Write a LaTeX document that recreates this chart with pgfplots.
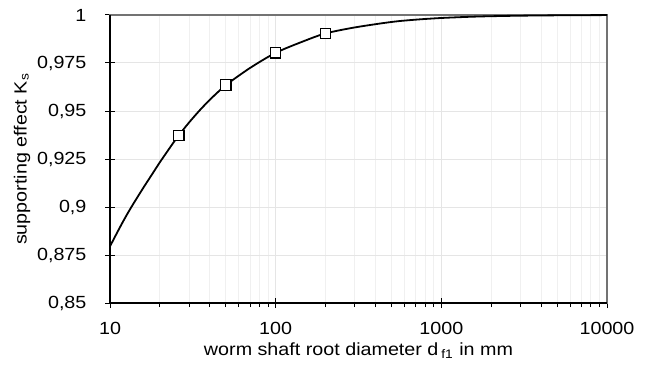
\documentclass[border=0pt]{standalone}
\usepackage{pgfplots}
\pgfplotsset{compat=1.18}
\usepackage{fontspec}
\setmainfont{Liberation Sans}[FakeStretch=1.12]
\begin{document}
\fontsize{8.8}{10.5}\selectfont
\begin{tikzpicture}
\begin{axis}[
  xmode=log,
  width=248.5pt, height=144pt, scale only axis,
  xmin=10, xmax=10000, ymin=0.85, ymax=1,
  xtick={10,100,1000,10000},
  xticklabels={10,100,1000,10000},
  ytick={0.85,0.875,0.9,0.925,0.95,0.975,1},
  yticklabels={0{,}85,0{,}875,0{,}9,0{,}925,0{,}95,0{,}975,1},
  xtick pos=left, ytick pos=left,
  tick align=center,
  major tick length=5pt,
  minor tick length=2pt,
  minor x tick style={yshift=-1pt},
  tick style={black, line width=0.5pt},
  grid=both,
  major grid style={color=black!10, line width=0.5pt},
  minor grid style={color=black!6, line width=0.5pt},
  axis line style={color=black!55, line width=0.8pt},
  xlabel={worm shaft root diameter d\,\textsubscript{f1} in mm},
  ylabel={supporting effect K\textsubscript{s}},
  xlabel style={at={(axis description cs:0.5,0)}, anchor=base, yshift=-26.2pt, inner sep=0pt},
  ylabel style={at={(axis description cs:0,0.5)}, anchor=center, yshift=44pt, inner sep=0pt},
  xticklabel style={anchor=base, yshift=-13pt, inner sep=0pt},
  yticklabel style={anchor=east, xshift=-9.1pt, inner sep=0pt},
  clip=false,
]
\addplot[black, line width=0.9pt, smooth] table {
10 0.8795
11 0.8864
12 0.8925
13 0.8978
14 0.9024
16 0.9104
18 0.9172
20 0.9233
22 0.9285
24 0.9332
26 0.9373
30 0.9440
35 0.9506
40 0.9558
45 0.9600
50 0.9635
70 0.9724
100 0.9803
150 0.9866
200 0.9904
300 0.99352
500 0.99637
700 0.99757
1000 0.99844
1500 0.99908
2000 0.99937
3000 0.99964
5000 0.99983
10000 0.99996
};
\addplot[only marks, mark=square*, mark size=2.6pt, mark options={fill=white, draw=black, line width=0.6pt}] table {
26 0.9373
50 0.9635
100 0.9803
200 0.9904
};
\draw[black, line width=0.6pt] (rel axis cs:0,1) -- (rel axis cs:0,0) -- (rel axis cs:1,0);
\end{axis}
\pgfresetboundingbox
\useasboundingbox (current axis.south west) ++(-55pt,-30.5pt) rectangle ++(323pt,182pt);
\end{tikzpicture}
\end{document}
